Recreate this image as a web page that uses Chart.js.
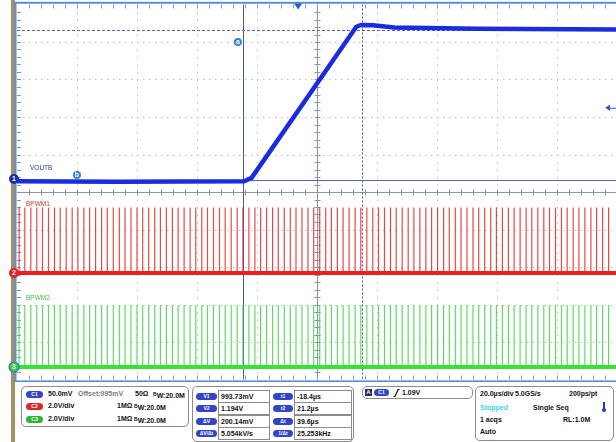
<!DOCTYPE html>
<html lang="en">

<head>
    <meta charset="UTF-8">
    <title>VOUTB / BPWM1 / BPWM2</title>
    <style>
        body { margin: 0; width: 616px; height: 442px; overflow: hidden; background: #fff; position: relative;
               font-family: "Liberation Sans", Arial, sans-serif; }
        #strip { position: absolute; left: 11px; top: 0; width: 4px; height: 442px; background: #a88f5a; }
        #scope { position: absolute; left: 0; top: 0; }
        .box { position: absolute; box-sizing: border-box; border: 1px solid #8c8c8c; border-radius: 5px; background: #fff; }
        .t { position: absolute; font-size: 7px; font-weight: bold; color: #111; white-space: nowrap; line-height: 8px; }
        .t sup { font-size: 5px; vertical-align: 2px; }
        .grey { color: #7d7d7d; }
        .cyan { color: #3fd3e6; }
        .badge { position: absolute; height: 7px; border-radius: 4px; color: #fff; font-size: 5px; font-weight: bold;
                 text-align: center; line-height: 7px; background: #3344c4; }
        .red { background: #d42a2a; }
        .green { background: #2fb43a; }
        .val { position: absolute; box-sizing: border-box; height: 13px; border: 1px solid #8c8c8c; background: #fff;
               font-size: 7px; font-weight: bold; line-height: 11px; padding-left: 2px; color: #111; }
    </style>
</head>

<body>
    <div id="strip"></div>
    <canvas id="scope" width="617" height="382"></canvas>

    <!-- channel setup -->
    <div class="box" style="left:21px;top:386px;width:168px;height:41px"></div>
    <div class="badge" style="left:26px;top:391px;width:17px">C1</div>
    <div class="t" style="left:48px;top:390px">50.0mV</div>
    <div class="t grey" style="left:78px;top:390px">Offset:995mV</div>
    <div class="t" style="left:135px;top:390px">50Ω</div>
    <div class="t" style="left:153px;top:390px"><sup>B</sup>W:20.0M</div>
    <div class="badge red" style="left:26px;top:403px;width:17px">C2</div>
    <div class="t" style="left:48px;top:402px">2.0V/div</div>
    <div class="t" style="left:117px;top:402px">1MΩ</div>
    <div class="t" style="left:134px;top:402px"><sup>B</sup>W:20.0M</div>
    <div class="badge green" style="left:26px;top:416px;width:17px">C3</div>
    <div class="t" style="left:48px;top:415px">2.0V/div</div>
    <div class="t" style="left:117px;top:415px">1MΩ</div>
    <div class="t" style="left:134px;top:415px"><sup>B</sup>W:20.0M</div>

    <!-- cursor readout -->
    <div class="box" style="left:192px;top:386px;width:162px;height:56px"></div>
    <div id="readout"></div>

    <!-- trigger -->
    <div class="box" style="left:362px;top:386px;width:111px;height:13px"></div>
    <div style="position:absolute;left:365px;top:389px;width:7px;height:7px;background:#1b2a66;color:#fff;font:bold 6px Arial;line-height:7px;text-align:center">A</div>
    <div class="badge" style="left:374px;top:389px;width:15px">C1</div>
    <svg style="position:absolute;left:393px;top:388px" width="7" height="10"><path d="M0.5 8.5 L2 8.5 L5 1.5 L6.5 1.5" stroke="#111" stroke-width="1.2" fill="none"/></svg>
    <div class="t" style="left:402px;top:389px">1.09V</div>

    <!-- timebase -->
    <div class="box" style="left:475px;top:386px;width:139px;height:55px"></div>
    <div class="t" style="left:480px;top:390px">20.0µs/div</div>
    <div class="t" style="left:515px;top:390px">5.0GS/s</div>
    <div class="t" style="left:569px;top:390px">200ps/pt</div>
    <div class="t cyan" style="left:480px;top:404px">Stopped</div>
    <div class="t" style="left:533px;top:404px">Single Seq</div>
    <div style="position:absolute;left:603px;top:402px;width:2px;height:8px;background:#1f3cc0"></div>
    <div style="position:absolute;left:602px;top:408px;width:4px;height:4px;border-radius:2px;background:#1f3cc0"></div>
    <div class="t" style="left:480px;top:416px">1 acqs</div>
    <div class="t" style="left:563px;top:416px">RL:1.0M</div>
    <div class="t" style="left:480px;top:428px">Auto</div>

<script src="https://cdn.jsdelivr.net/npm/chart.js"></script>
<script>
    // ---- data (time in µs relative to trigger) ----
    const xMin = -93.7, xMax = 106.3;          // 10 div x 20 µs
    const voltsPerDiv = [0.05, 2.0, 2.0];      // C1, C2, C3
    const screenCenter = [0.9777, 4.32, 9.333]; // value at the middle of the screen

    // VOUTB (C1)
    const voutTimes = [-93.7, -60, -18, -15.5, 19.4, 21, 25, 32, 60, 106.3];
    const voutVolts = [0.992, 0.9915, 0.992, 0.9965, 1.198, 1.2005, 1.2, 1.197, 1.1955, 1.1945];

    // pulse positions of BPWM1 / BPWM2
    const pulseTimes = [
        -93.0, -91.1, -89.1, -87.1, -85.2, -83.2, -81.2, -79.3, -77.3, -75.3,
        -73.4, -71.4, -69.5, -67.5, -65.5, -63.6, -61.6, -59.6, -57.7, -55.7,
        -53.7, -51.8, -49.8, -47.8, -45.9, -43.9, -41.9, -40.0, -38.0, -36.0,
        -34.1, -32.1, -30.2, -28.2, -26.2, -24.3, -22.3, -20.3, -18.4, -16.4,
        -14.4, -12.5, -10.5, -8.5, -6.6, -4.6, -2.6, -0.7, 1.3, 3.3,
        5.2, 7.2, 9.2, 11.1, 13.1, 15.0, 17.0, 19.0, 20.9, 22.9,
        24.9, 26.8, 28.8, 30.8, 32.7, 34.7, 36.7, 38.6, 40.6, 42.6,
        44.5, 46.5, 48.5, 50.4, 52.4, 54.3, 56.3, 58.3, 60.2, 62.2,
        64.2, 66.1, 68.1, 70.1, 72.0, 74.0, 76.0, 77.9, 79.9, 81.9,
        83.8, 85.8, 87.8, 89.7, 91.7, 93.6, 95.6, 97.6, 99.5, 101.5, 103.5
    ];
    const pwm1High = 3.5;
    const pwm2High = 3.3;

    // cursors and trigger
    const cursorT = [-18.4, 21.2];
    const cursorV = [0.99373, 1.194];
    const trigLevel = 1.09;
    const c1Offset = 0.995;

    const readLabels1 = ['V1', 'V2', 'ΔV', 'ΔV/Δt'];
    const readValues1 = ['993.73mV', '1.194V', '200.14mV', '5.054kV/s'];
    const readLabels2 = ['t1', 't2', 'Δt', '1/Δt'];
    const readValues2 = ['-18.4µs', '21.2µs', '39.6µs', '25.253kHz'];

    // cursor readout table
    let html = '';
    readLabels1.forEach((l, i) => {
        const top = 390 + i * 12.4;
        html += `<div class="badge" style="left:196px;top:${top + 3}px;width:21px">${l}</div>`;
        html += `<div class="val" style="left:218px;top:${top}px;width:52px">${readValues1[i]}</div>`;
        html += `<div class="badge" style="left:273px;top:${top + 3}px;width:20px">${readLabels2[i]}</div>`;
        html += `<div class="val" style="left:294px;top:${top}px;width:58px">${readValues2[i]}</div>`;
    });
    document.getElementById('readout').innerHTML = html;

    function pulses(high) {
        const pts = [];
        pulseTimes.forEach(t => {
            pts.push({ x: t, y: 0 }, { x: t, y: high }, { x: t, y: null });
        });
        return pts;
    }

    function line(ctx, x1, y1, x2, y2) {
        ctx.beginPath(); ctx.moveTo(x1, y1); ctx.lineTo(x2, y2); ctx.stroke();
    }

    function marker(ctx, x, y, r, fill, txt, ring) {
        ctx.beginPath(); ctx.arc(x, y, r, 0, Math.PI * 2);
        ctx.fillStyle = fill; ctx.fill();
        if (ring) { ctx.strokeStyle = ring; ctx.lineWidth = 1.2; ctx.stroke(); }
        ctx.fillStyle = '#fff'; ctx.font = 'bold 7px Arial';
        ctx.textAlign = 'center'; ctx.textBaseline = 'middle';
        ctx.fillText(txt, x, y + 0.5);
    }

    // graticule, frame and cursors
    const graticule = {
        id: 'graticule',
        beforeDatasetsDraw(chart) {
            const { ctx, chartArea: a, scales } = chart;
            const sx = scales.x, sy = scales.grid;
            ctx.save();
            ctx.lineWidth = 1;
            ctx.strokeStyle = '#bcbcbc';
            for (let i = 1; i < 10; i++) {
                if (i === 5) continue;
                const y = Math.round(sy.getPixelForValue(i)) + 0.5;
                ctx.setLineDash([1.5, 4.5]);
                line(ctx, a.left, y, a.right, y);
                const x = Math.round(sx.getPixelForValue(xMin + i * 20)) + 0.5;
                ctx.setLineDash([1.5, 6]);
                line(ctx, x, a.top, x, a.bottom);
            }
            ctx.setLineDash([]);
            // centre axes with minor ticks
            ctx.strokeStyle = '#8d94a6';
            const cx = Math.round(sx.getPixelForValue(xMin + 100)) + 0.5;
            const cy = Math.round(sy.getPixelForValue(5)) + 0.5;
            line(ctx, cx, a.top, cx, a.bottom);
            line(ctx, a.left, cy, a.right, cy);
            for (let k = 1; k < 50; k++) {
                const x = Math.round(sx.getPixelForValue(xMin + k * 4)) + 0.5;
                const y = Math.round(sy.getPixelForValue(k / 5)) + 0.5;
                line(ctx, x, cy - 3, x, cy + 3);
                line(ctx, cx - 3, y, cx + 3, y);
                line(ctx, x, a.top, x, a.top + 4);
                line(ctx, x, a.bottom - 4, x, a.bottom);
                line(ctx, a.left, y, a.left + 4, y);
            }
            // frame
            ctx.strokeStyle = '#5a8ce0'; ctx.lineWidth = 2;
            ctx.strokeRect(a.left - 1.5, a.top - 1.7, a.right - a.left + 3, a.bottom - a.top + 3.6);
            // cursors
            ctx.lineWidth = 1;
            const c1 = scales.yC1;
            ctx.strokeStyle = '#4b5a9c';
            line(ctx, Math.round(sx.getPixelForValue(cursorT[0])) + 0.5, a.top, Math.round(sx.getPixelForValue(cursorT[0])) + 0.5, a.bottom);
            ctx.setLineDash([2, 2]);
            line(ctx, Math.round(sx.getPixelForValue(cursorT[1])) + 0.5, a.top, Math.round(sx.getPixelForValue(cursorT[1])) + 0.5, a.bottom);
            ctx.strokeStyle = '#5262c6';
            ctx.setLineDash([3, 2]);
            line(ctx, a.left, Math.round(c1.getPixelForValue(cursorV[1])) + 0.5, a.right, Math.round(c1.getPixelForValue(cursorV[1])) + 0.5);
            ctx.setLineDash([]);
            line(ctx, a.left, Math.round(c1.getPixelForValue(cursorV[0])) + 0.5, a.right, Math.round(c1.getPixelForValue(cursorV[0])) + 0.5);
            ctx.restore();
        },
        afterDatasetsDraw(chart) {
            const { ctx, chartArea: a, scales } = chart;
            const sx = scales.x;
            ctx.save();
            // trace labels
            ctx.font = '6.5px Arial'; ctx.textAlign = 'left'; ctx.textBaseline = 'middle';
            ctx.fillStyle = '#2b3888';
            ctx.fillText('VOUTB', a.left + 13, scales.yC1.getPixelForValue(c1Offset) - 11);
            ctx.fillStyle = '#d03434';
            ctx.fillText('BPWM1', a.left + 9, scales.yC2.getPixelForValue(0) - 69);
            ctx.fillStyle = '#46c046';
            ctx.fillText('BPWM2', a.left + 9, scales.yC3.getPixelForValue(0) - 69);
            // cursor tags
            marker(ctx, sx.getPixelForValue(cursorT[0]) - 5, scales.grid.getPixelForValue(9), 4, '#3a82d2', 'a');
            marker(ctx, sx.getPixelForValue(xMin + 20), scales.yC1.getPixelForValue(cursorV[0]) - 5, 4, '#3a82d2', 'b');
            // channel ground markers
            marker(ctx, 14, scales.yC1.getPixelForValue(c1Offset), 5, '#1a2fa8', '1');
            marker(ctx, 14, scales.yC2.getPixelForValue(0), 5, '#e02424', '2');
            marker(ctx, 14, scales.yC3.getPixelForValue(0), 5, '#3ccc3c', '3', '#3a70d8');
            // trigger position and level
            const tx = sx.getPixelForValue(0);
            ctx.fillStyle = '#2a5bd7';
            ctx.beginPath(); ctx.moveTo(tx - 4, a.top - 1); ctx.lineTo(tx + 4, a.top - 1); ctx.lineTo(tx, a.top + 5); ctx.fill();
            const ty = scales.yC1.getPixelForValue(trigLevel);
            ctx.beginPath(); ctx.moveTo(a.right - 12, ty); ctx.lineTo(a.right - 7, ty - 3); ctx.lineTo(a.right - 7, ty + 3); ctx.fill();
            ctx.strokeStyle = '#2a5bd7'; ctx.lineWidth = 1;
            line(ctx, a.right - 8, ty + 0.5, a.right, ty + 0.5);
            ctx.restore();
        }
    };

    const voutData = voutTimes.map((t, i) => ({ x: t, y: voutVolts[i] }));

    new Chart(document.getElementById('scope'), {
        type: 'line',
        data: {
            datasets: [
                { data: voutData, yAxisID: 'yC1', borderColor: '#1b2be0', borderWidth: 4.5, order: 0 },
                { data: [{ x: xMin, y: 0 }, { x: xMax, y: 0 }], yAxisID: 'yC2', borderColor: '#ee1e1e', borderWidth: 4, order: 1 },
                { data: pulses(pwm1High), yAxisID: 'yC2', borderColor: 'rgba(226,40,40,0.85)', borderWidth: 1.2, order: 2 },
                { data: [{ x: xMin, y: 0 }, { x: xMax, y: 0 }], yAxisID: 'yC3', borderColor: '#35e235', borderWidth: 4, order: 1 },
                { data: pulses(pwm2High), yAxisID: 'yC3', borderColor: 'rgba(70,210,70,0.85)', borderWidth: 1.2, order: 2 }
            ]
        },
        options: {
            responsive: false,
            animation: false,
            spanGaps: false,
            elements: { point: { radius: 0 }, line: { tension: 0 } },
            layout: { padding: { left: 17, top: 4.5, right: 0, bottom: 2.5 } },
            plugins: { legend: { display: false }, title: { display: false }, tooltip: { enabled: false } },
            scales: {
                x: { type: 'linear', axis: 'x', min: xMin, max: xMax, display: false },
                grid: { type: 'linear', axis: 'y', min: 0, max: 10, display: false },
                yC1: { type: 'linear', axis: 'y', min: screenCenter[0] - 5 * voltsPerDiv[0], max: screenCenter[0] + 5 * voltsPerDiv[0], display: false },
                yC2: { type: 'linear', axis: 'y', min: screenCenter[1] - 5 * voltsPerDiv[1], max: screenCenter[1] + 5 * voltsPerDiv[1], display: false },
                yC3: { type: 'linear', axis: 'y', min: screenCenter[2] - 5 * voltsPerDiv[2], max: screenCenter[2] + 5 * voltsPerDiv[2], display: false }
            }
        },
        plugins: [graticule]
    });
</script>
</body>

</html>
